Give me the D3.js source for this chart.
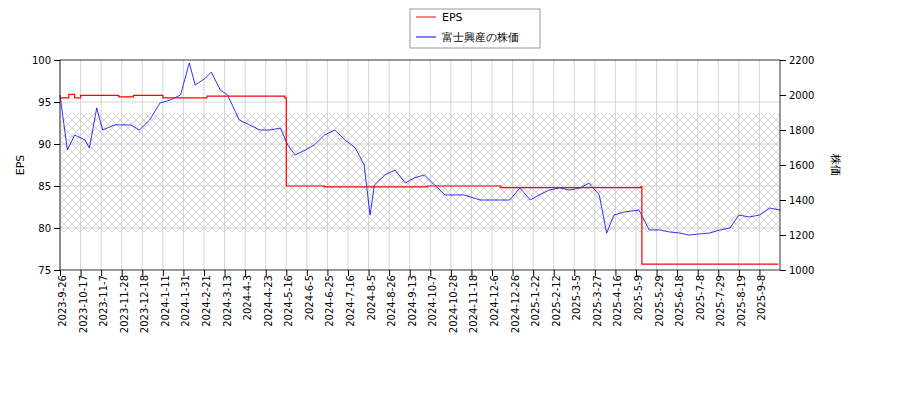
<!DOCTYPE html><html><head><meta charset="utf-8"><script src="https://cdn.jsdelivr.net/npm/d3@7"></script>
<style>body{margin:0;background:#fff}text{font-family:"DejaVu Sans";}</style></head><body><svg id="c" width="900" height="400"></svg>
<script>
const tickLabels=["2023-9-26","2023-10-17","2023-11-7","2023-11-28","2023-12-18","2024-1-11","2024-1-31","2024-2-21","2024-3-13","2024-4-3","2024-4-23","2024-5-16","2024-6-5","2024-6-25","2024-7-16","2024-8-5","2024-8-26","2024-9-13","2024-10-7","2024-10-28","2024-11-18","2024-12-6","2024-12-26","2025-1-22","2025-2-12","2025-3-5","2025-3-27","2025-4-16","2025-5-9","2025-5-29","2025-6-18","2025-7-8","2025-7-29","2025-8-19","2025-9-8"];
const tickStep=14;
const nDays=490;
const priceDay=[0,5,10,17,20,25,29,37,48,54,61,68,75,82,88,92,99,103,109,114,122,129,136,143,150,155,160,167,173,180,187,194,201,207,211,214,221,228,235,241,248,255,262,269,275,286,296,306,313,320,326,333,340,347,354,360,367,372,377,384,394,401,408,415,422,428,435,442,449,456,462,469,476,483,490];
const price=[2000,1686,1771,1743,1697,1926,1800,1829,1829,1800,1857,1954,1971,2000,2183,2057,2097,2131,2029,2000,1857,1829,1800,1800,1811,1714,1657,1686,1714,1771,1800,1743,1697,1600,1314,1486,1543,1571,1497,1526,1543,1486,1429,1429,1429,1400,1400,1400,1469,1400,1429,1457,1469,1457,1469,1497,1429,1211,1314,1331,1343,1229,1229,1217,1211,1200,1206,1211,1229,1240,1314,1303,1314,1354,1343];
const epsDay=[0,6,10,14,40,50,70,100,153,154,180,250,300,395,396,489];
const eps=[95.5,95.9,95.5,95.8,95.6,95.8,95.5,95.7,95.5,85.0,84.9,85.0,84.8,84.9,75.7,75.7];
const bandLo=1217, bandHi=1897;
const svg=d3.select("#c");
const L=60,R=780,T=60,B=270;
const x=d3.scaleLinear().domain([0,nDays]).range([L,R]);
const yL=d3.scaleLinear().domain([75,100]).range([B,T]);
const yR=d3.scaleLinear().domain([1000,2200]).range([B,T]);
const defs=svg.append("defs");
const pat=defs.append("pattern").attr("id","h").attr("width",8).attr("height",8).attr("patternUnits","userSpaceOnUse");
pat.append("path").attr("d","M0,0L8,8M8,0L0,8").attr("stroke","#bbb").attr("stroke-width",0.6);
svg.append("rect").attr("x",L).attr("y",yR(bandHi)).attr("width",R-L).attr("height",yR(bandLo)-yR(bandHi)).attr("fill","url(#h)");
const g=svg.append("g");
tickLabels.forEach((t,i)=>{g.append("line").attr("x1",x(i*tickStep)).attr("x2",x(i*tickStep)).attr("y1",T).attr("y2",B).attr("stroke","#ccc").attr("stroke-width",0.8);});
[80,85,90,95].forEach(v=>g.append("line").attr("x1",L).attr("x2",R).attr("y1",yL(v)).attr("y2",yL(v)).attr("stroke","#ccc").attr("stroke-width",0.8));
svg.append("path").datum(priceDay.map((d,i)=>[d,price[i]])).attr("fill","none").attr("stroke","blue").attr("stroke-width",0.8).attr("d",d3.line().x(d=>x(d[0])).y(d=>yR(d[1])));
svg.append("path").datum(epsDay.map((d,i)=>[d,eps[i]])).attr("fill","none").attr("stroke","red").attr("stroke-width",1.2).attr("d",d3.line().curve(d3.curveStepAfter).x(d=>x(d[0])).y(d=>yL(d[1])));
svg.append("rect").attr("x",L).attr("y",T).attr("width",R-L).attr("height",B-T).attr("fill","none").attr("stroke","#000").attr("stroke-width",0.8);
const ax=svg.append("g").attr("transform",`translate(0,${B})`).call(d3.axisBottom(x).tickValues(tickLabels.map((t,i)=>i*tickStep)).tickFormat((d,i)=>tickLabels[i]).tickSizeOuter(0));
ax.selectAll("text").attr("transform","rotate(-90)").attr("text-anchor","end").attr("dx","-0.5em").attr("dy","-0.35em").attr("font-size",10);
svg.append("g").attr("transform",`translate(${L},0)`).call(d3.axisLeft(yL).tickValues([75,80,85,90,95,100]).tickSizeOuter(0)).selectAll("text").attr("font-size",10);
svg.append("g").attr("transform",`translate(${R},0)`).call(d3.axisRight(yR).tickValues([1000,1200,1400,1600,1800,2000,2200]).tickFormat(d3.format("d")).tickSizeOuter(0)).selectAll("text").attr("font-size",10);
svg.selectAll(".domain").remove();
svg.append("text").attr("transform","translate(24,165) rotate(-90)").attr("text-anchor","middle").attr("font-size",11).text("EPS");
svg.append("text").attr("transform","translate(832,165) rotate(90)").attr("text-anchor","middle").attr("font-size",11).text("株価");
const lg=svg.append("g");
lg.append("rect").attr("x",410).attr("y",9).attr("width",130).attr("height",39).attr("fill","#fff").attr("stroke","#999");
lg.append("line").attr("x1",416).attr("x2",436).attr("y1",17).attr("y2",17).attr("stroke","red");
lg.append("text").attr("x",442).attr("y",21).attr("font-size",11).text("EPS");
lg.append("line").attr("x1",416).attr("x2",436).attr("y1",37).attr("y2",37).attr("stroke","blue");
lg.append("text").attr("x",442).attr("y",41).attr("font-size",11).text("富士興産の株価");
</script></body></html>
